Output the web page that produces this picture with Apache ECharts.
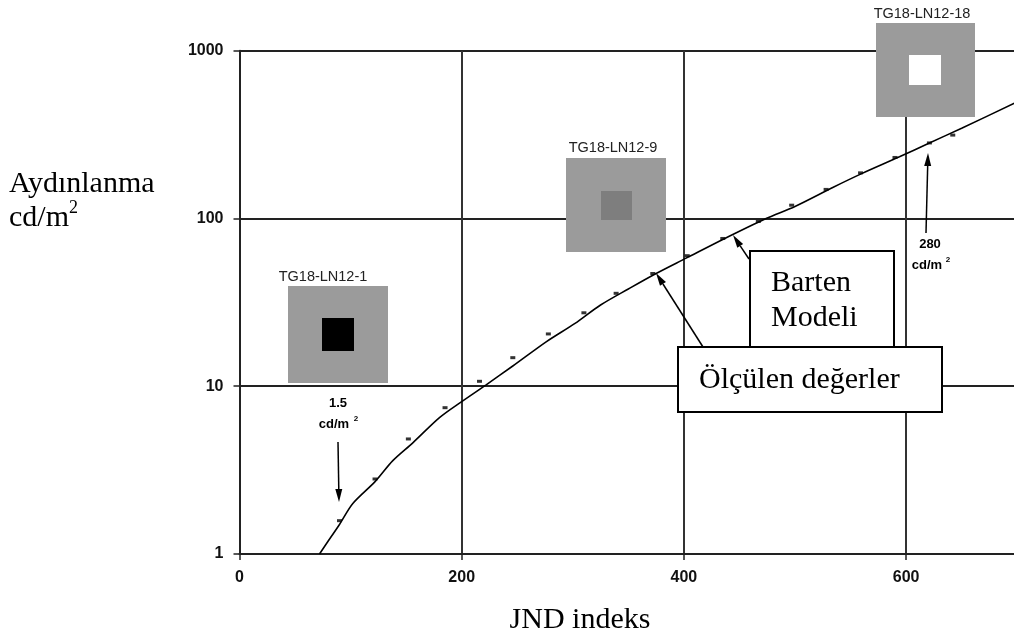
<!DOCTYPE html>
<html>
<head>
<meta charset="utf-8">
<script src="https://cdn.jsdelivr.net/npm/echarts@6.0.0/dist/echarts.min.js"></script>
<style>
  html, body { margin: 0; padding: 0; background: #fff; }
  #main { width: 1014px; height: 635px; }
</style>
</head>
<body>
<div id="main"></div>
<script>
// Barten model curve (JND index -> luminance cd/m2)
var bartenX = [72, 80, 90, 102, 122, 138, 156, 180, 200, 222, 246, 276, 302, 325, 350, 375, 402, 435, 474, 500, 534, 560, 594, 620, 650, 700];
var bartenY = [1.0, 1.2, 1.5, 2.0, 2.7, 3.6, 4.6, 6.5, 8.1, 10.2, 13.2, 18.4, 23.7, 30.5, 38, 47, 58, 75, 100, 118, 153, 185, 233, 280, 345, 495];

// measured values
var measX = [90, 122, 152, 185, 216, 246, 278, 310, 339, 372, 403, 435, 467, 497, 528, 559, 590, 621, 642];
var measY = [1.58, 2.8, 4.85, 7.45, 10.7, 14.8, 20.5, 27.4, 35.8, 47, 60, 76, 96, 120, 149, 187, 231, 282, 314];

var xTicks = [0, 200, 400, 600];
var yTicks = [1, 10, 100, 1000];

function pairs(xs, ys) {
    var out = [];
    for (var i = 0; i < xs.length; i++) out.push([xs[i], ys[i]]);
    return out;
}

function txt(s, x, y, font, align, color) {
    return {
        type: 'text', z: 120,
        style: {
            text: s, x: x, y: y, font: font, fill: color || '#000',
            textAlign: align || 'center', align: align || 'center',
            textVerticalAlign: 'middle', verticalAlign: 'middle'
        }
    };
}

function rect(x, y, w, h, fill, stroke) {
    return {
        type: 'rect', z: 110,
        shape: { x: x, y: y, width: w, height: h },
        style: { fill: fill, stroke: stroke || null, lineWidth: stroke ? 2 : 0 }
    };
}

// line with a slim filled head at (x2, y2)
function arrow(x1, y1, x2, y2) {
    var dx = x2 - x1, dy = y2 - y1;
    var len = Math.sqrt(dx * dx + dy * dy);
    var ux = dx / len, uy = dy / len;
    var hl = 13, hw = 3.5;
    var bx = x2 - ux * hl, by = y2 - uy * hl;
    return [
        { type: 'line', z: 115, shape: { x1: x1, y1: y1, x2: bx, y2: by }, style: { stroke: '#000', lineWidth: 1.5 } },
        { type: 'polygon', z: 115, shape: { points: [[x2, y2], [bx - uy * hw, by + ux * hw], [bx + uy * hw, by - ux * hw]] }, style: { fill: '#000' } }
    ];
}

var serif = '30px "Liberation Serif", "Times New Roman", serif';
var small = '14.5px "Liberation Sans", Arial, sans-serif';
var bold = 'bold 13px "Liberation Sans", Arial, sans-serif';

var graphics = [
    // y axis title
    txt('Aydınlanma', 9, 184, serif, 'left'),
    txt('cd/m', 9, 218, serif, 'left'),
    txt('2', 69, 208, '18px "Liberation Serif", serif', 'left'),
    // x axis title
    txt('JND indeks', 580, 620, serif),

    // test patterns
    rect(288, 286, 100, 97, '#9b9b9b'),
    rect(322, 318, 32, 33, '#000'),
    txt('TG18-LN12-1', 323, 277, small, 'center', '#222'),
    rect(566, 158, 100, 94, '#9b9b9b'),
    rect(601, 191, 31, 29, '#7e7e7e'),
    txt('TG18-LN12-9', 613, 148, small, 'center', '#222'),
    rect(876, 23, 99, 94, '#9b9b9b'),
    rect(909, 55, 32, 30, '#fff'),
    txt('TG18-LN12-18', 922, 14, small, 'center', '#222'),

    // luminance notes
    txt('1.5', 338, 403, bold),
    txt('cd/m', 334, 424, bold),
    txt('2', 356, 419, 'bold 8px "Liberation Sans", sans-serif'),
    txt('280', 930, 244, bold),
    txt('cd/m', 927, 265, bold),
    txt('2', 948, 260, 'bold 8px "Liberation Sans", sans-serif'),

    // label boxes
    rect(750, 251, 144, 110, '#fff', '#000'),
    txt('Barten', 771, 283, serif, 'left'),
    txt('Modeli', 771, 318, serif, 'left'),
    rect(678, 347, 264, 65, '#fff', '#000'),
    txt('Ölçülen değerler', 699, 380, serif, 'left')
];
graphics = graphics
    .concat(arrow(338, 442, 339, 502))
    .concat(arrow(926, 233, 928, 153))
    .concat(arrow(749, 259, 733, 235))
    .concat(arrow(703, 347, 656, 273));

var chart = echarts.init(document.getElementById('main'), null, { renderer: 'canvas' });
chart.setOption({
    backgroundColor: '#fff',
    animation: false,
    grid: { left: 239.5, top: 50.7, right: -3.2, bottom: 81, outerBoundsMode: 'none', containLabel: false },
    xAxis: {
        type: 'value', min: 0, max: 700, interval: 200,
        axisLine: { show: true, lineStyle: { color: '#222', width: 2 } },
        axisTick: { show: true, length: 6, lineStyle: { color: '#222', width: 1.5 } },
        axisLabel: {
            margin: 16, showMaxLabel: false, color: '#111',
            fontFamily: '"Liberation Sans", Arial, sans-serif', fontWeight: 'bold', fontSize: 16,
            formatter: function (v) { return xTicks.indexOf(v) >= 0 ? String(v) : ''; }
        },
        splitLine: { show: true, lineStyle: { color: '#333', width: 2 } }
    },
    yAxis: {
        type: 'log', logBase: 10, min: 1, max: 1000,
        axisLine: { show: true, lineStyle: { color: '#222', width: 2 } },
        axisTick: { show: true, length: 6, lineStyle: { color: '#222', width: 1.5 } },
        axisLabel: {
            margin: 16, color: '#111',
            fontFamily: '"Liberation Sans", Arial, sans-serif', fontWeight: 'bold', fontSize: 16,
            formatter: function (v) { return yTicks.indexOf(Math.round(v)) >= 0 ? String(Math.round(v)) : ''; }
        },
        splitLine: { show: true, lineStyle: { color: '#222', width: 2 } },
        minorTick: { show: false }
    },
    series: [
        {
            name: 'Barten Modeli',
            type: 'line',
            data: pairs(bartenX, bartenY),
            smooth: 0.3,
            showSymbol: false,
            clip: true,
            lineStyle: { color: '#000', width: 1.6 },
            z: 5
        },
        {
            name: 'Ölçülen değerler',
            type: 'scatter',
            data: pairs(measX, measY),
            symbol: 'rect',
            symbolSize: [5, 3],
            itemStyle: { color: '#000' },
            z: 6
        }
    ],
    graphic: { elements: graphics }
});
</script>
</body>
</html>
